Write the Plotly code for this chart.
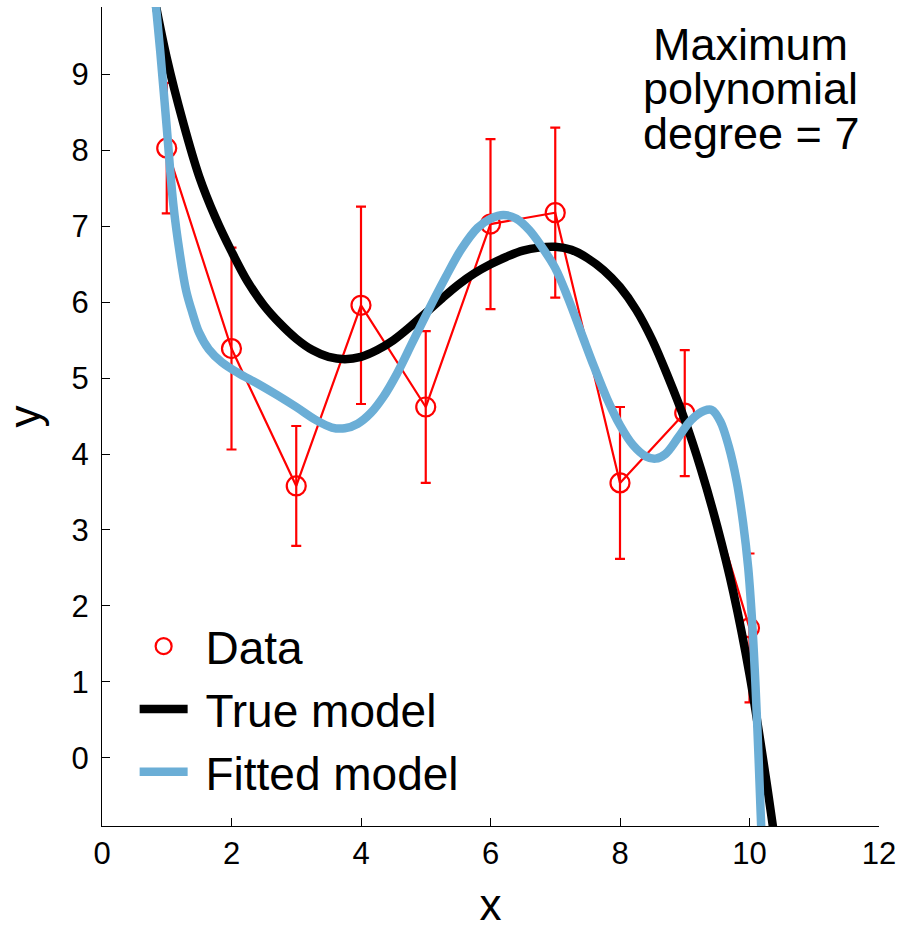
import plotly.graph_objects as go

# Data points with error bars
data_x = [1, 2, 3, 4, 5, 6, 7, 8, 9, 10]
data_y = [8.03, 5.39, 3.58, 5.96, 4.62, 7.03, 7.18, 3.62, 4.54, 1.71]
data_err = [0.86, 1.33, 0.79, 1.30, 1.00, 1.12, 1.12, 1.00, 0.83, 0.98]

# True model curve
true_x = [0.80, 1.00, 1.25, 1.50, 1.75, 2.00, 2.25, 2.50, 2.75, 3.00, 3.25, 3.50, 3.75,
          4.00, 4.25, 4.50, 4.75, 5.00, 5.25, 5.50, 5.75, 6.00, 6.25, 6.50, 6.75, 7.00,
          7.25, 7.50, 7.75, 8.00, 8.25, 8.50, 8.75, 9.00, 9.25, 9.50, 9.75, 10.00, 10.25,
          10.50]
true_y = [10.05, 9.22, 8.38, 7.66, 7.12, 6.67, 6.27, 5.96, 5.72, 5.52, 5.37, 5.28, 5.25,
          5.28, 5.37, 5.50, 5.67, 5.86, 6.05, 6.23, 6.38, 6.50, 6.60, 6.68, 6.72, 6.73,
          6.69, 6.58, 6.42, 6.20, 5.90, 5.50, 5.00, 4.45, 3.80, 3.05, 2.18, 1.10, -0.25,
          -1.75]

# Fitted model curve
fit_x = [0.80, 0.90, 1.00, 1.10, 1.20, 1.30, 1.40, 1.50, 1.65, 1.85, 2.10, 2.40, 2.70,
         3.00, 3.30, 3.55, 3.75, 3.95, 4.15, 4.35, 4.55, 4.80, 5.05, 5.30, 5.55, 5.80,
         6.00, 6.20, 6.40, 6.60, 6.80, 7.00, 7.20, 7.40, 7.60, 7.80, 8.00, 8.20, 8.40,
         8.55, 8.70, 8.90, 9.10, 9.30, 9.42, 9.55, 9.68, 9.80, 9.90, 9.98, 10.04, 10.09,
         10.14, 10.18, 10.22]
fit_y = [10.2, 9.3, 8.3, 7.3, 6.65, 6.15, 5.85, 5.60, 5.38, 5.21, 5.07, 4.93, 4.78,
         4.62, 4.45, 4.35, 4.34, 4.40, 4.54, 4.76, 5.05, 5.48, 5.91, 6.32, 6.70, 6.98,
         7.10, 7.15, 7.10, 6.95, 6.72, 6.45, 6.05, 5.60, 5.15, 4.73, 4.38, 4.12, 3.97,
         3.94, 4.00, 4.22, 4.45, 4.57, 4.58, 4.43, 4.10, 3.65, 3.10, 2.50, 1.80, 1.00,
         0.00, -0.90, -1.60]

x_ticks = [0, 2, 4, 6, 8, 10, 12]
y_ticks = [0, 1, 2, 3, 4, 5, 6, 7, 8, 9]

annot_lines = ["Maximum", "polynomial", "degree = 7"]

RED = "#ff0000"
BLUE = "#6baed6"
FONT = "Liberation Sans, Arial, Helvetica, sans-serif"
NB = "\u00a0"

fig = go.Figure()

# connecting line for data (no legend entry)
fig.add_trace(go.Scatter(
    x=data_x, y=data_y, mode="lines",
    line=dict(color=RED, width=2.2),
    showlegend=False, hoverinfo="skip"))

# data markers with error bars
fig.add_trace(go.Scatter(
    x=data_x, y=data_y, mode="markers", name=NB + "Data",
    marker=dict(symbol="circle-open", size=19, color=RED, line=dict(width=2.2, color=RED)),
    error_y=dict(type="data", array=data_err, visible=True, color=RED, thickness=2.2, width=5)))

fig.add_trace(go.Scatter(
    x=true_x, y=true_y, mode="lines", name=NB + "True model",
    line=dict(color="black", width=8.5, shape="spline", smoothing=1)))

fig.add_trace(go.Scatter(
    x=fit_x, y=fit_y, mode="lines", name=NB + "Fitted model",
    line=dict(color=BLUE, width=8.5, shape="spline", smoothing=1)))

line_y = [0.9548, 0.8999, 0.845]
annotations = []
for txt, yy in zip(annot_lines, line_y):
    annotations.append(dict(
        text=txt, x=0.835, y=yy, xref="paper", yref="paper",
        xanchor="center", yanchor="middle", showarrow=False,
        font=dict(family=FONT, size=45, color="black")))

fig.update_layout(
    width=901, height=929,
    margin=dict(l=102, r=22, t=7, b=103),
    paper_bgcolor="white", plot_bgcolor="white",
    font=dict(family=FONT, color="black"),
    showlegend=True,
    legend=dict(
        x=0.042, y=0.264, xanchor="left", yanchor="top",
        bgcolor="rgba(0,0,0,0)", font=dict(family=FONT, size=46, color="black"),
        itemwidth=48, tracegroupgap=0),
    annotations=annotations,
    xaxis=dict(
        range=[0, 12], tickvals=x_ticks, ticktext=[str(v) for v in x_ticks],
        showgrid=False, zeroline=False, showline=True, linecolor="black", linewidth=1.3,
        ticks="inside", ticklen=8, tickwidth=1.3, tickcolor="black",
        tickfont=dict(family=FONT, size=31, color="black"),
        title=dict(text="x", font=dict(family=FONT, size=44, color="black"), standoff=28),
        automargin=False, mirror=False),
    yaxis=dict(
        range=[-0.90, 9.89], tickvals=y_ticks, ticktext=[str(v) for v in y_ticks],
        showgrid=False, zeroline=False, showline=True, linecolor="black", linewidth=1.3,
        ticks="inside", ticklen=8, tickwidth=1.3, tickcolor="black",
        tickfont=dict(family=FONT, size=31, color="black"),
        ticklabelstandoff=6,
        title=dict(text="y", font=dict(family=FONT, size=44, color="black"), standoff=24),
        automargin=False, mirror=False),
)

fig.write_html("out.html")
